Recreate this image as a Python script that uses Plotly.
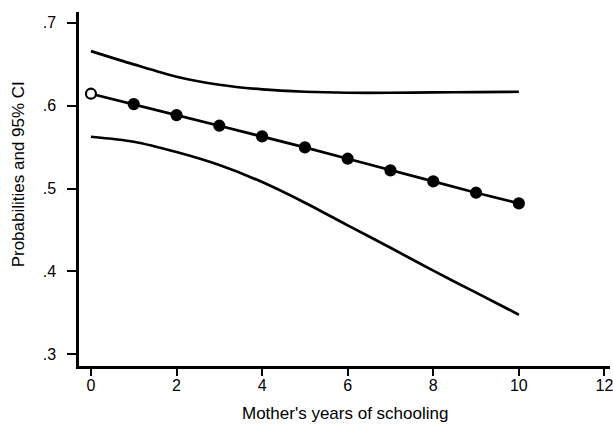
import plotly.graph_objects as go

years = [0, 1, 2, 3, 4, 5, 6, 7, 8, 9, 10]
prob = [0.6144, 0.6019, 0.5886, 0.5758, 0.5629, 0.5497, 0.5360, 0.5219, 0.5086, 0.4950, 0.4821]
upper_ci = [0.6658, 0.6498, 0.6349, 0.6252, 0.6196, 0.6168, 0.6156, 0.6156, 0.6160, 0.6164, 0.6168]
lower_ci = [0.5625, 0.5565, 0.5440, 0.5283, 0.5078, 0.4829, 0.4556, 0.4286, 0.4009, 0.3744, 0.3478]

y_tick_vals = [0.3, 0.4, 0.5, 0.6, 0.7]
y_tick_text = [".3", ".4", ".5", ".6", ".7"]
x_tick_vals = [0, 2, 4, 6, 8, 10, 12]

x_title = "Mother's years of schooling"
y_title = "Probabilities and 95% CI"

FONT = "Liberation Sans, Arial, sans-serif"

fig = go.Figure()
fig.add_trace(go.Scatter(x=years, y=upper_ci, mode="lines",
                         line=dict(color="black", width=2.7, shape="spline", smoothing=0.8),
                         showlegend=False))
fig.add_trace(go.Scatter(x=years, y=lower_ci, mode="lines",
                         line=dict(color="black", width=2.7, shape="spline", smoothing=0.8),
                         showlegend=False))
fig.add_trace(go.Scatter(x=years, y=prob, mode="lines+markers",
                         line=dict(color="black", width=2.7),
                         marker=dict(size=10, color=["white"] + ["black"] * (len(years) - 1),
                                     line=dict(color="black", width=2.2)),
                         showlegend=False))

fig.update_layout(
    width=613, height=424,
    margin=dict(l=79, r=0, t=12, b=58),
    paper_bgcolor="white", plot_bgcolor="white",
    font=dict(family=FONT, size=16, color="black"),
    xaxis=dict(range=[-0.279, 12.13], tickvals=x_tick_vals, showgrid=False, zeroline=False,
               showline=True, linecolor="black", linewidth=2.5,
               ticks="outside", ticklen=7, tickwidth=2, tickcolor="black",
               ticklabelstandoff=-4, ticklabeloverflow="allow", tickfont=dict(size=16)),
    yaxis=dict(range=[0.2859, 0.713], tickvals=y_tick_vals, ticktext=y_tick_text,
               showgrid=False, zeroline=False,
               showline=True, linecolor="black", linewidth=2.5,
               ticks="outside", ticklen=9, tickwidth=2, tickcolor="black",
               ticklabelstandoff=8, tickfont=dict(size=16)),
    annotations=[
        dict(text=x_title, xref="paper", yref="paper", x=(347 - 79) / 534, y=-(413 - 366) / 354,
             showarrow=False, xanchor="center", yanchor="middle", font=dict(size=17)),
        dict(text=y_title, xref="paper", yref="paper", x=-(79 - 18) / 534, y=(366 - 174) / 354,
             showarrow=False, xanchor="center", yanchor="middle", textangle=-90, font=dict(size=17)),
    ],
)

fig.write_html("out.html", config={"displayModeBar": False},
               post_script="document.body.style.margin='0px';document.body.style.overflow='hidden';")
